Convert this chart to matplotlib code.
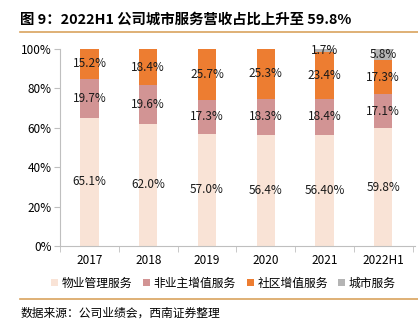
import numpy as np
import matplotlib.pyplot as plt
from matplotlib.lines import Line2D

plt.rcParams['font.family'] = ['Noto Sans CJK SC', 'DejaVu Sans']

years = ["2017", "2018", "2019", "2020", "2021", "2022H1"]
property_mgmt = [65.1, 62.0, 57.0, 56.4, 56.4, 59.8]
non_owner = [19.7, 19.6, 17.3, 18.3, 18.4, 17.1]
community = [15.2, 18.4, 25.7, 25.3, 23.4, 17.3]
city_service = [0, 0, 0, 0, 1.7, 5.8]
property_labels = ["65.1%", "62.0%", "57.0%", "56.4%", "56.40%", "59.8%"]

series = [
    ("物业管理服务", property_mgmt, "#F9E3D6"),
    ("非业主增值服务", non_owner, "#D29494"),
    ("社区增值服务", community, "#ED7D31"),
    ("城市服务", city_service, "#B4B4B4"),
]

fig = plt.figure(figsize=(4.18, 3.26), dpi=100)
ax = fig.add_axes([0.144, 0.245, 0.85, 0.605])

x = np.arange(len(years))
bottom = np.zeros(len(years))
for i, (name, vals, color) in enumerate(series):
    vals = np.array(vals, dtype=float)
    ax.bar(x, vals / 100, 0.31, bottom=bottom / 100, color=color, label=name)
    for j, v in enumerate(vals):
        if v <= 0:
            continue
        txt = property_labels[j] if i == 0 else f"{v:.1f}%"
        ax.text(x[j], (bottom[j] + v / 2) / 100, txt, ha="center", va="center",
                fontsize=8.5, color="#1a1a1a")
    bottom += vals

ax.set_xlim(-0.5, len(years) - 0.45)
ax.set_ylim(0, 1.0)
ax.set_yticks(np.linspace(0, 1, 6))
ax.set_yticklabels([f"{int(v)}%" for v in np.linspace(0, 100, 6)], fontsize=8.5)
ax.set_xticks(x)
ax.set_xticklabels(years, fontsize=8.5)
ax.tick_params(axis="x", length=0, pad=6)
ax.set_xticks(np.arange(-0.5, len(years)), minor=True)
ax.tick_params(axis="x", which="minor", length=4, color="#BFBFBF")
ax.tick_params(axis="y", length=4, color="#BFBFBF", pad=2)
for s in ["top", "right"]:
    ax.spines[s].set_visible(False)
for s in ["left", "bottom"]:
    ax.spines[s].set_color("#BFBFBF")

ax.legend(loc="upper center", bbox_to_anchor=(0.46, -0.1), ncol=4, frameon=False,
          fontsize=8.5, handlelength=0.6, handleheight=0.6, handletextpad=0.3,
          columnspacing=0.9)

fig.text(0.048, 0.94, "图 9：2022H1 公司城市服务营收占比上升至 59.8%",
         fontsize=10.4, fontweight="bold", va="center")
fig.add_artist(Line2D([0.048, 1.0], [0.902, 0.902], color="#D9A35E", lw=1.2))
fig.add_artist(Line2D([0.048, 1.0], [0.083, 0.083], color="#D9A35E", lw=1.2))
fig.text(0.05, 0.04, "数据来源：公司业绩会，西南证券整理", fontsize=8.5,
         style="italic", va="center")

fig.savefig("out.png", dpi=100)
